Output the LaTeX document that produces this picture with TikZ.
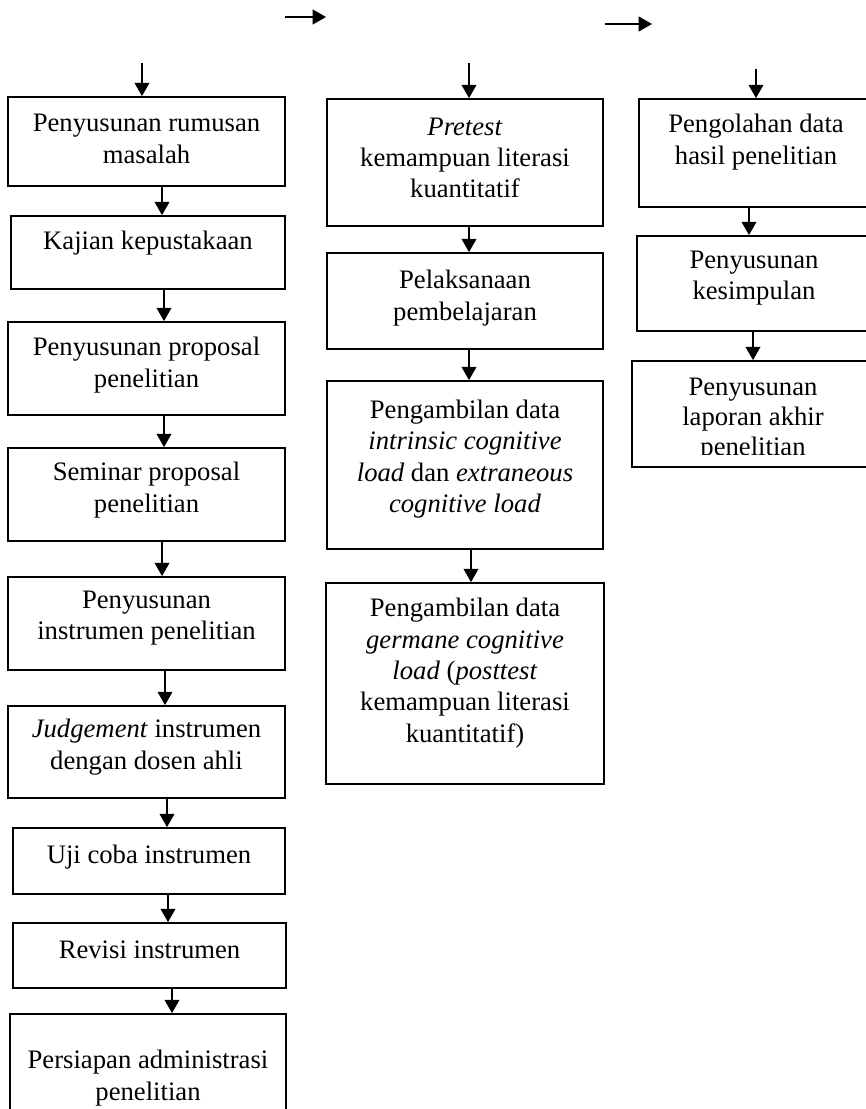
\documentclass[tikz,border=0pt]{standalone}
\usepackage{fontspec}
\setmainfont{Liberation Serif}
\usetikzlibrary{arrows.meta,fit}
\begin{document}
\begin{tikzpicture}[x=0.75pt,y=-0.75pt,
 box/.style={draw,line width=1.3pt,inner sep=0pt},
 txt/.style={align=center,inner sep=0pt,font=\fontsize{20}{23.5}\selectfont},
 arr/.style={line width=1.5pt,-{Triangle[width=11pt,length=10pt]}}]
\useasboundingbox (0,0) rectangle (866,1109);
\clip (0,0) rectangle (866,1109);
% top horizontal arrows
\coordinate (h1s) at (285,17); \coordinate (h1e) at (326,17);
\coordinate (h2s) at (605,24); \coordinate (h2e) at (652,24);
\draw[arr] (h1s) -- (h1e);
\draw[arr] (h2s) -- (h2e);
% column 1
\node[box,fit={(8,97)(285,186)}] (a1) {};
\node[txt] (ta1) at (146.5,139) {Penyusunan rumusan\\masalah};
\node[box,fit={(11,216)(285,289)}] (a2) {};
\node[txt] (ta2) at (148,243) {Kajian kepustakaan};
\node[box,fit={(8,322)(285,415)}] (a3) {};
\node[txt] (ta3) at (146.5,365) {Penyusunan proposal\\penelitian};
\node[box,fit={(8,448)(285,541)}] (a4) {};
\node[txt] (ta4) at (146.5,490) {Seminar proposal\\penelitian};
\node[box,fit={(8,577)(285,670)}] (a5) {};
\node[txt] (ta5) at (146.5,618) {Penyusunan\\instrumen penelitian};
\node[box,fit={(8,706)(285,798)}] (a6) {};
\node[txt] (ta6) at (146.5,747) {\textit{Judgement} instrumen\\dengan dosen ahli};
\node[box,fit={(13,828)(285,894)}] (a7) {};
\node[txt] (ta7) at (149,857) {Uji coba instrumen};
\node[box,fit={(13,923)(286,988)}] (a8) {};
\node[txt] (ta8) at (149.5,950) {Revisi instrumen};
\node[box,fit={(10,1014)(286,1125)}] (a9) {};
\node[txt] (ta9) at (148,1078) {Persiapan administrasi\\penelitian};
% column 2
\node[box,fit={(327,99)(603,226)}] (b1) {};
\node[txt] (tb1) at (465,158) {\textit{Pretest}\\kemampuan literasi\\kuantitatif};
\node[box,fit={(327,253)(603,349)}] (b2) {};
\node[txt] (tb2) at (465,298) {Pelaksanaan\\pembelajaran};
\node[box,fit={(327,381)(603,549)}] (b3) {};
\node[txt] (tb3) at (465,459) {Pengambilan data\\\textit{intrinsic cognitive}\\\textit{load} dan \textit{extraneous}\\\textit{cognitive load}};
\node[box,fit={(326,583)(604,784)}] (b4) {};
\node[txt] (tb4) at (465,673) {Pengambilan data\\\textit{germane cognitive}\\\textit{load} (\textit{posttest}\\kemampuan literasi\\kuantitatif)};
% column 3
\node[box,fit={(639,99)(874,207)}] (c1) {};
\node[txt] (tc1) at (756,142) {Pengolahan data\\hasil penelitian};
\node[box,fit={(637,236)(874,331)}] (c2) {};
\node[txt] (tc2) at (754,278) {Penyusunan\\kesimpulan};
\node[box,fit={(632,361)(874,467)}] (c3) {};
\begin{scope}
\clip (632,361) rectangle (874,454);
\node[txt,font=\fontsize{20}{22.5}\selectfont] (tc3) at (753,420) {Penyusunan\\laporan akhir\\penelitian};
\end{scope}
% entry arrows
\coordinate (s1) at (142,63);
\coordinate (s2) at (469,63);
\coordinate (s3) at (756,69);
\draw[arr] (s1) -- (s1 |- a1.north);
\draw[arr] (s2) -- (s2 |- b1.north);
\draw[arr] (s3) -- (s3 |- c1.north);
% column 1 arrows
\coordinate (x1) at (162,0);
\coordinate (x2) at (164,0);
\coordinate (x3) at (164,0);
\coordinate (x4) at (162,0);
\coordinate (x5) at (165,0);
\coordinate (x6) at (167,0);
\coordinate (x7) at (168,0);
\coordinate (x8) at (172,0);
\draw[arr] (a1.south -| x1) -- (a2.north -| x1);
\draw[arr] (a2.south -| x2) -- (a3.north -| x2);
\draw[arr] (a3.south -| x3) -- (a4.north -| x3);
\draw[arr] (a4.south -| x4) -- (a5.north -| x4);
\draw[arr] (a5.south -| x5) -- (a6.north -| x5);
\draw[arr] (a6.south -| x6) -- (a7.north -| x6);
\draw[arr] (a7.south -| x7) -- (a8.north -| x7);
\draw[arr] (a8.south -| x8) -- (a9.north -| x8);
% column 2 arrows
\coordinate (y1) at (469,0);
\coordinate (y2) at (469,0);
\coordinate (y3) at (471,0);
\draw[arr] (b1.south -| y1) -- (b2.north -| y1);
\draw[arr] (b2.south -| y2) -- (b3.north -| y2);
\draw[arr] (b3.south -| y3) -- (b4.north -| y3);
% column 3 arrows
\coordinate (z1) at (749,0);
\coordinate (z2) at (753,0);
\draw[arr] (c1.south -| z1) -- (c2.north -| z1);
\draw[arr] (c2.south -| z2) -- (c3.north -| z2);
\end{tikzpicture}
\end{document}
